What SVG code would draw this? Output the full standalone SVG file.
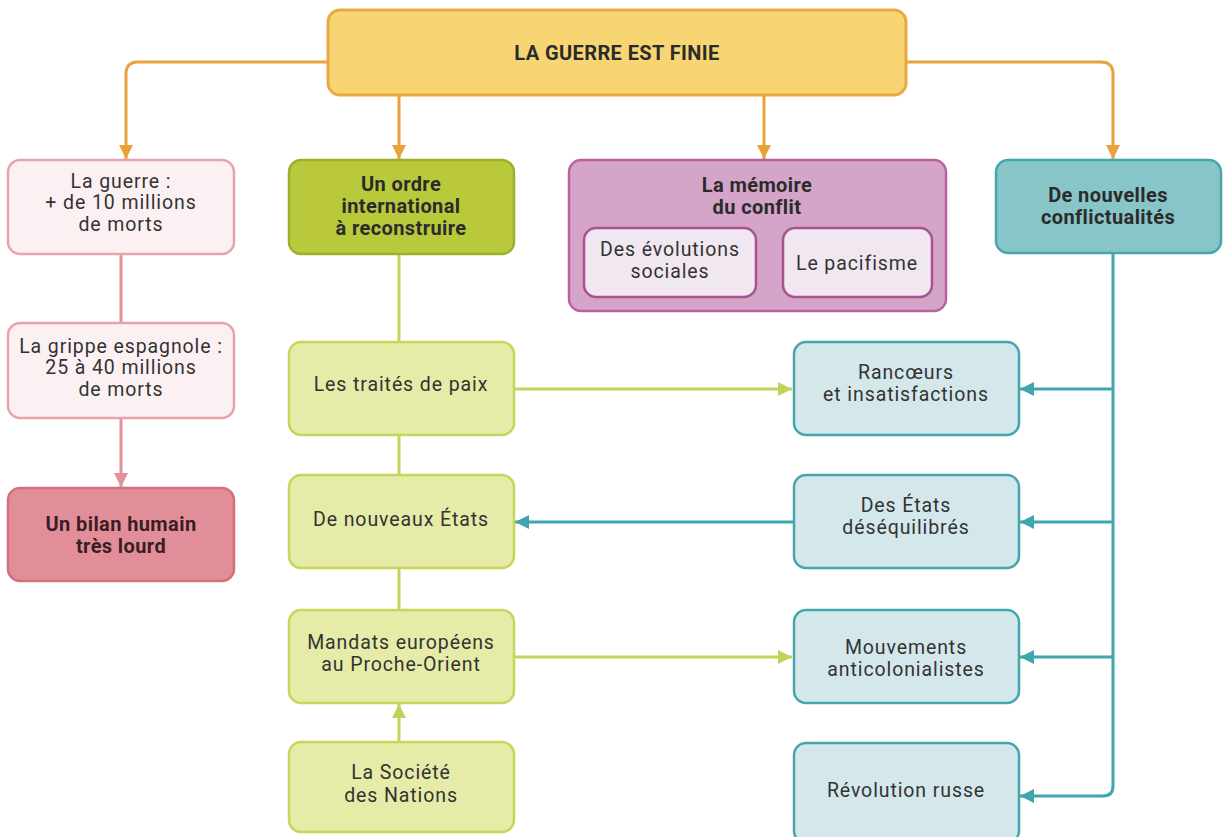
<svg xmlns="http://www.w3.org/2000/svg" width="1228" height="837" viewBox="0 0 1228 837">
<defs>
<marker id="aO" markerUnits="userSpaceOnUse" markerWidth="16" markerHeight="16" viewBox="0 0 16 16" refX="14" refY="8" orient="auto"><path d="M0,1 L14,8 L0,15 Z" fill="#e8a23a"/></marker>
<marker id="aP" markerUnits="userSpaceOnUse" markerWidth="16" markerHeight="16" viewBox="0 0 16 16" refX="14" refY="8" orient="auto"><path d="M0,1 L14,8 L0,15 Z" fill="#e2919d"/></marker>
<marker id="aG" markerUnits="userSpaceOnUse" markerWidth="16" markerHeight="16" viewBox="0 0 16 16" refX="14" refY="8" orient="auto"><path d="M0,1 L14,8 L0,15 Z" fill="#c3d35a"/></marker>
<marker id="aT" markerUnits="userSpaceOnUse" markerWidth="16" markerHeight="16" viewBox="0 0 16 16" refX="14" refY="8" orient="auto"><path d="M0,1 L14,8 L0,15 Z" fill="#3fa6ad"/></marker>
</defs>
<style>
text{font-family:Roboto,"Liberation Sans",sans-serif;font-size:19.5px;letter-spacing:0.9px;fill:#333;text-anchor:middle}
.b{font-weight:bold;font-size:20px;letter-spacing:0.4px;fill:#2b2b2b}
.top{fill:#f8d573;stroke:#eaa843;stroke-width:3}
.pl{fill:#fcf1f2;stroke:#e8a3ad;stroke-width:2.5}
.pd{fill:#e28e99;stroke:#d4707d;stroke-width:2.5}
.gd{fill:#b9c93b;stroke:#9bb02c;stroke-width:2.5}
.gl{fill:#e6eba8;stroke:#c6d65b;stroke-width:2.5}
.md{fill:#d5a4c9;stroke:#b9629f;stroke-width:2.5}
.ml{fill:#f0e7f1;stroke:#a9528f;stroke-width:2.5}
.td{fill:#88c5c8;stroke:#45a6ac;stroke-width:2.5}
.tl{fill:#d4e8ec;stroke:#45a6ac;stroke-width:2.5}
.c{fill:none;stroke-width:3}
</style>
<g id="connectors">
<path class="c" stroke="#e8a23a" d="M328,62 H138 Q126,62 126,74 V159" marker-end="url(#aO)"/>
<path class="c" stroke="#e8a23a" d="M906,62 H1101 Q1113,62 1113,74 V159" marker-end="url(#aO)"/>
<path class="c" stroke="#e8a23a" d="M399,96 V159" marker-end="url(#aO)"/>
<path class="c" stroke="#e8a23a" d="M764,96 V159" marker-end="url(#aO)"/>
<path class="c" stroke="#e2919d" d="M121,254 V323"/>
<path class="c" stroke="#e2919d" d="M121,418 V487" marker-end="url(#aP)"/>
<path class="c" stroke="#c3d35a" d="M399,254 V610"/>
<path class="c" stroke="#c3d35a" d="M399,742 V704" marker-end="url(#aG)"/>
<path class="c" stroke="#c3d35a" d="M514,389 H792" marker-end="url(#aG)"/>
<path class="c" stroke="#c3d35a" d="M514,657 H792" marker-end="url(#aG)"/>
<path class="c" stroke="#3fa6ad" d="M794,522 H515" marker-end="url(#aT)"/>
<path class="c" stroke="#3fa6ad" d="M1113,253 V786 Q1113,796 1103,796 H1020" marker-end="url(#aT)"/>
<path class="c" stroke="#3fa6ad" d="M1113,389 H1020" marker-end="url(#aT)"/>
<path class="c" stroke="#3fa6ad" d="M1113,522 H1020" marker-end="url(#aT)"/>
<path class="c" stroke="#3fa6ad" d="M1113,657 H1020" marker-end="url(#aT)"/>
</g>
<g id="n-top"><rect class="top" x="328" y="10" width="578" height="85" rx="12"/><text class="b" x="617" y="60">LA GUERRE EST FINIE</text></g>
<g id="n-guerre"><rect class="pl" x="8" y="160" width="226" height="94" rx="12"/><text x="121" y="188">La guerre :</text><text x="121" y="209">+ de 10 millions</text><text x="121" y="231">de morts</text></g>
<g id="n-grippe"><rect class="pl" x="8" y="323" width="226" height="95" rx="12"/><text x="121" y="353">La grippe espagnole :</text><text x="121" y="374">25 à 40 millions</text><text x="121" y="396">de morts</text></g>
<g id="n-bilan"><rect class="pd" x="8" y="488" width="226" height="93" rx="12"/><text class="b" x="121" y="531" style="fill:#3a1e23">Un bilan humain</text><text class="b" x="121" y="553" style="fill:#3a1e23">très lourd</text></g>
<g id="n-ordre"><rect class="gd" x="289" y="160" width="225" height="94" rx="12"/><text class="b" x="401" y="191">Un ordre</text><text class="b" x="401" y="213">international</text><text class="b" x="401" y="235">à reconstruire</text></g>
<g id="n-traites"><rect class="gl" x="289" y="342" width="225" height="93" rx="12"/><text x="401" y="391">Les traités de paix</text></g>
<g id="n-etats"><rect class="gl" x="289" y="475" width="225" height="93" rx="12"/><text x="401" y="526">De nouveaux États</text></g>
<g id="n-mandats"><rect class="gl" x="289" y="610" width="225" height="93" rx="12"/><text x="401" y="649">Mandats européens</text><text x="401" y="671">au Proche-Orient</text></g>
<g id="n-sdn"><rect class="gl" x="289" y="742" width="225" height="90" rx="12"/><text x="401" y="779">La Société</text><text x="401" y="802">des Nations</text></g>
<g id="n-memoire"><rect class="md" x="569" y="160" width="377" height="151" rx="12"/><text class="b" x="757" y="192">La mémoire</text><text class="b" x="757" y="214">du conflit</text>
<g id="n-evol"><rect class="ml" x="584" y="228" width="172" height="69" rx="12"/><text x="670" y="256">Des évolutions</text><text x="670" y="278">sociales</text></g>
<g id="n-paci"><rect class="ml" x="783" y="228" width="149" height="69" rx="12"/><text x="857" y="270">Le pacifisme</text></g></g>
<g id="n-conflict"><rect class="td" x="996" y="160" width="225" height="93" rx="12"/><text class="b" x="1108" y="202">De nouvelles</text><text class="b" x="1108" y="224">conflictualités</text></g>
<g id="n-rancoeurs"><rect class="tl" x="794" y="342" width="225" height="93" rx="12"/><text x="906" y="379">Rancœurs</text><text x="906" y="401">et insatisfactions</text></g>
<g id="n-deseq"><rect class="tl" x="794" y="475" width="225" height="93" rx="12"/><text x="906" y="512">Des États</text><text x="906" y="534">déséquilibrés</text></g>
<g id="n-anticol"><rect class="tl" x="794" y="610" width="225" height="93" rx="12"/><text x="906" y="654">Mouvements</text><text x="906" y="676">anticolonialistes</text></g>
<g id="n-revo"><rect class="tl" x="794" y="743" width="225" height="100" rx="12"/><text x="906" y="797">Révolution russe</text></g>
</svg>
